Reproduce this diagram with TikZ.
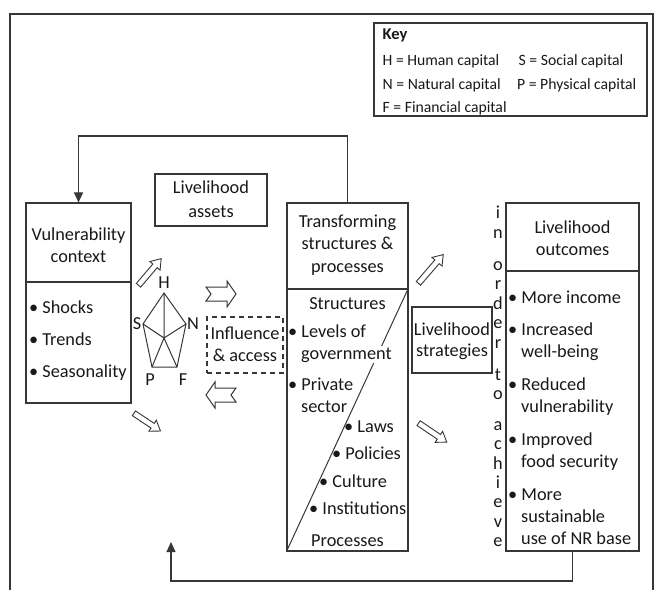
\documentclass[tikz,border=0pt]{standalone}
\usepackage{fontspec}
\setmainfont{Carlito}
\usetikzlibrary{shapes.arrows,arrows.meta}
\definecolor{linec}{RGB}{55,55,55}
\definecolor{txt}{RGB}{25,25,25}
\begin{document}
\begin{tikzpicture}[x=1bp,y=-1bp,
 ln/.style={draw=linec,line width=1.1bp},
 boxn/.style={ln,rectangle,inner sep=0pt},
 mt/.style={font=\fontsize{18.3bp}{22bp}\selectfont,text=txt,inner sep=0pt},
 kt/.style={font=\fontsize{15.7bp}{19bp}\selectfont,text=txt,inner sep=0pt,anchor=base west},
 bl/.style={mt,anchor=base west},
 ct/.style={mt,anchor=base},
 pentlbl/.style={mt,anchor=center},
 harrow/.style={ln,line width=0.9bp,single arrow,single arrow head extend=3.8bp,single arrow tip angle=70,single arrow head indent=0pt,inner sep=2.4bp,fill=white},
 fb/.style={ln,-{Triangle[length=10bp,width=9bp]}},
 blk/.style={ln,line width=1bp,fill=white,line join=miter}
]
\useasboundingbox (0,0) rectangle (660,590);
\fill[white] (0,0) rectangle (660,590);
% outer frame
\draw[ln] (10,590) -- (10,14) -- (653,14) -- (653,590);

% key
\node[boxn,minimum width=273bp,minimum height=93bp] (key) at (510.5,69.5) {};
\node[mt,anchor=base west,font=\fontsize{16.5bp}{20bp}\selectfont\bfseries] (keyt) at (382.5,40) {Key};
\node[kt] (kH) at (382.5,65.7) {H = Human capital};
\node[kt] (kS) at (518.5,65.7) {S = Social capital};
\node[kt] (kN) at (382.5,90) {N = Natural capital};
\node[kt] (kP) at (517,90) {P = Physical capital};
\node[kt] (kF) at (382.5,112.7) {F = Financial capital};

% boxes
\node[boxn,minimum width=105bp,minimum height=200bp] (vuln) at (78.5,303) {};
\node[boxn,minimum width=112bp,minimum height=52bp] (assets) at (211,200) {};
\node[boxn,minimum width=121bp,minimum height=348bp] (trans) at (347.5,377) {};
\node[boxn,minimum width=80bp,minimum height=66bp] (strat) at (452,340) {};
\node[boxn,minimum width=133bp,minimum height=348bp] (outc) at (572.5,377) {};
\node[boxn,dash pattern=on 5bp off 4bp,minimum width=76bp,minimum height=56bp] (infl) at (245,345) {};

% dividers
\draw[ln] (26,282) -- (131,282);
\draw[ln] (287,289) -- (408,289);
\draw[ln] (506,271) -- (639,271);
% diagonal in transforming box
\draw[ln,line width=1bp] (trans.south west) -- (408,289);

% vulnerability text
\node[ct] (v1) at (78.5,240) {Vulnerability};
\node[ct] (v2) at (78.5,262) {context};
\node[bl] (v3) at (29,313) {• Shocks};
\node[bl] (v4) at (29,345) {• Trends};
\node[bl] (v5) at (29,377) {• Seasonality};

% assets text
\node[ct] (a1) at (211,194) {Livelihood};
\node[ct] (a2) at (211,217) {assets};

% pentagon
\coordinate (pH) at (164,293);
\coordinate (pN) at (186,324);
\coordinate (pF) at (177,367);
\coordinate (pP) at (152,367);
\coordinate (pS) at (143,324);
\coordinate (pO) at (164,338);
\draw[ln,line width=1bp,line join=miter] (pH) -- (pN) -- (pF) -- (pP) -- (pS) -- cycle;
\draw[ln,line width=1bp] (pO) -- (pH) (pO) -- (pN) (pO) -- (pF) (pO) -- (pP) (pO) -- (pS);
\node[pentlbl] (lH) at (164,283) {H};
\node[pentlbl] (lS) at (137,324) {S};
\node[pentlbl] (lN) at (193,324) {N};
\node[pentlbl] (lP) at (150,380) {P};
\node[pentlbl] (lF) at (183,380) {F};

% influence text
\node[ct] (i1) at (245,339) {Influence};
\node[ct] (i2) at (245,361) {\& access};

% block arrows
\draw[blk] (206,287) -- (227,287) -- (227,281) -- (236,294) -- (227,307) -- (227,301) -- (206,301) -- (211,294) -- cycle;
\draw[blk] (236,388) -- (215,388) -- (215,382) -- (206,395) -- (215,408) -- (215,402) -- (236,402) -- (231,395) -- cycle;

% hollow arrows
\node[harrow,minimum height=35bp,rotate=49.6] (ha1) at (148.5,273.5) {};
\node[harrow,minimum height=32bp,rotate=-33.7] (ha2) at (145.5,421) {};
\node[harrow,minimum height=38bp,rotate=49.2] (ha3) at (429.5,270.5) {};
\node[harrow,minimum height=34bp,rotate=-34] (ha4) at (431,431.5) {};

% transforming text
\node[ct] (t1) at (347.5,227) {Transforming};
\node[ct] (t2) at (347.5,249) {structures \&};
\node[ct] (t3) at (347.5,272) {processes};
\node[ct] (t4) at (347.5,309) {Structures};
\node[bl] (t5) at (288,337) {• Levels of};
\node[bl,fill=white,inner ysep=1bp] (t6) at (301,359) {government};
\node[bl] (t7) at (288,390) {• Private};
\node[bl] (t8) at (301,412) {sector};
\node[bl] (t9) at (344,432) {• Laws};
\node[bl] (t10) at (332,459) {• Policies};
\node[bl] (t11) at (319,487) {• Culture};
\node[bl] (t12) at (309,514) {• Institutions};
\node[ct] (t13) at (347.5,546) {Processes};

% strategies text
\node[ct] (s1) at (452,335) {Livelihood};
\node[ct] (s2) at (452,356) {strategies};

% vertical text
\foreach \ch/\yy in {i/218,n/238,o/270,r/289,d/309,e/328,r/348,t/380,o/399,a/430,c/449,h/469,i/488,e/507,v/527,e/546}
  \node[ct] (vt\yy) at (498,\yy) {\ch};

% outcomes text
\node[ct] (o1) at (572.5,233) {Livelihood};
\node[ct] (o2) at (572.5,255) {outcomes};
\node[bl] (o3) at (508,303) {• More income};
\node[bl] (o4) at (508,335) {• Increased};
\node[bl] (o5) at (521,357) {well-being};
\node[bl] (o6) at (508,390) {• Reduced};
\node[bl] (o7) at (521,412) {vulnerability};
\node[bl] (o8) at (508,445) {• Improved};
\node[bl] (o9) at (521,467) {food security};
\node[bl] (o10) at (508,500) {• More};
\node[bl] (o11) at (521,522) {sustainable};
\node[bl] (o12) at (521,544) {use of NR base};

% feedback loops
\draw[fb] (trans.north) -- (347.5,136) -| (vuln.north);
\coordinate (fbend) at (171,542);
\draw[fb] (outc.south) -- (572.5,581) -| (fbend);
\end{tikzpicture}
\end{document}
